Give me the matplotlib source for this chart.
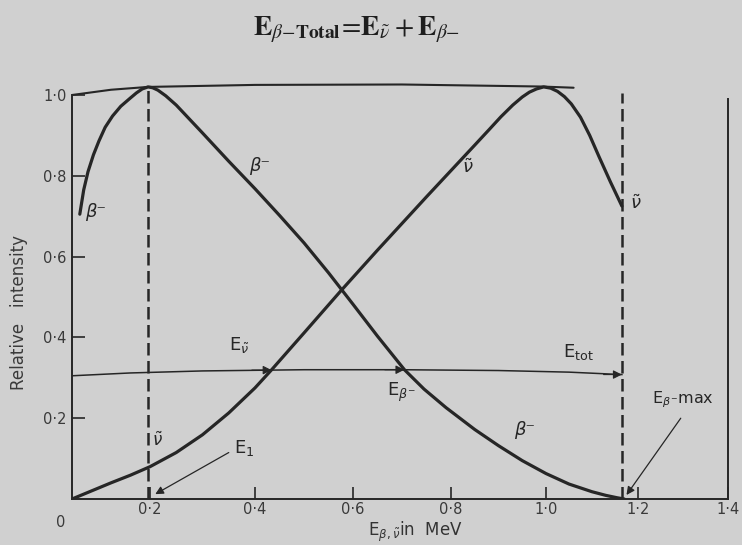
import numpy as np
import matplotlib.pyplot as plt

# energy axis of the original drawing is not evenly spaced
tick_mev = [0, 0.2, 0.4, 0.6, 0.8, 1.0, 1.2, 1.4]
tick_pos = [0, 78, 183, 281, 379, 474, 566, 656]
xtick_labels = ['0·2', '0·4', '0·6', '0·8', '1·0', '1·2', '1·4']
ytick_vals = [0.2, 0.4, 0.6, 0.8, 1.0]
ytick_labels = ['0·2', '0·4', '0·6', '0·8', '1·0']

# beta spectrum
beta_x = [0.02, 0.03, 0.041, 0.055, 0.069, 0.085, 0.104, 0.125, 0.149, 0.165, 0.18,
          0.195, 0.205, 0.215, 0.23, 0.25, 0.3, 0.35, 0.4, 0.45, 0.5, 0.55, 0.575,
          0.6, 0.65, 0.705, 0.745, 0.79, 0.85, 0.9, 0.95, 1.0, 1.05, 1.1, 1.13,
          1.155, 1.17]
beta_y = [0.705, 0.765, 0.81, 0.852, 0.886, 0.92, 0.948, 0.972, 0.992, 1.005, 1.015,
          1.02, 1.018, 1.012, 0.998, 0.975, 0.906, 0.836, 0.768, 0.702, 0.634, 0.56,
          0.521, 0.482, 0.403, 0.32, 0.272, 0.226, 0.172, 0.132, 0.095, 0.063, 0.037,
          0.018, 0.009, 0.003, 0.0]

# antineutrino spectrum
nu_x = [0, 0.05, 0.1, 0.15, 0.2, 0.25, 0.3, 0.35, 0.4, 0.434, 0.5, 0.575, 0.65,
        0.75, 0.85, 0.88, 0.905, 0.93, 0.95, 0.965, 0.98, 0.995, 1.01, 1.025, 1.04,
        1.055, 1.075, 1.095, 1.115, 1.14, 1.165]
nu_y = [0, 0.02, 0.04, 0.059, 0.08, 0.115, 0.159, 0.213, 0.275, 0.32, 0.411, 0.515,
        0.616, 0.748, 0.876, 0.914, 0.946, 0.975, 0.995, 1.007, 1.015, 1.02, 1.017,
        1.009, 0.996, 0.978, 0.945, 0.9, 0.848, 0.785, 0.725]

# energy sharing line and upper envelope
e_x = [0, 0.15, 0.3, 0.5, 0.7, 0.9, 1.05, 1.165]
e_y = [0.305, 0.312, 0.317, 0.32, 0.32, 0.318, 0.314, 0.308]
top_x = [0, 0.1, 0.195, 0.4, 0.7, 0.99, 1.06]
top_y = [1.0, 1.013, 1.02, 1.025, 1.026, 1.021, 1.018]

e1_x = 0.195        # dashed line at the first maximum
etot_x = 1.165      # dashed line at the end point
e1_top, etot_top = 1.02, 1.005
arrow_heads = [0.434, 0.705, 1.165]


def fwd(x):
    return np.interp(x, tick_mev, tick_pos)


def inv(u):
    return np.interp(u, tick_pos, tick_mev)


ink = '#262626'
bg = '#d0d0d0'

plt.rcParams['mathtext.fontset'] = 'dejavusans'

fig = plt.figure(figsize=(7.42, 5.45), dpi=100)
fig.patch.set_facecolor(bg)
ax = fig.add_axes([72 / 742, 46 / 545, 656 / 742, 1.06 * 404 / 545])
ax.set_facecolor(bg)
ax.set_xscale('function', functions=(fwd, inv))
ax.set_xlim(0, 1.4)
ax.set_ylim(0, 1.06)

ax.spines['top'].set_visible(False)
for s in ['left', 'bottom', 'right']:
    ax.spines[s].set_color(ink)
    ax.spines[s].set_linewidth(1.4)
ax.spines['left'].set_bounds(0, 1.0)
ax.spines['right'].set_bounds(0, 0.99)

ax.set_xticks(tick_mev[1:])
ax.set_xticklabels(xtick_labels)
ax.set_yticks(ytick_vals)
ax.set_yticklabels(ytick_labels)
ax.tick_params(direction='in', length=9, width=1.2, color=ink,
               labelcolor='#3a3a3a', labelsize=10.5)
ax.tick_params(axis='x', pad=2)
ax.tick_params(axis='y', pad=4)
ax.minorticks_off()

# curves
ax.plot(top_x, top_y, color=ink, lw=1.5, solid_capstyle='round')
ax.plot(beta_x, beta_y, color=ink, lw=2.3, solid_capstyle='round')
ax.plot(nu_x, nu_y, color=ink, lw=2.3, solid_capstyle='round')
ax.plot(e_x, e_y, color=ink, lw=1.1)
ax.plot([e1_x, e1_x], [0, e1_top], color=ink, lw=1.8, ls=(0, (5, 2.2)))
ax.plot([etot_x, etot_x], [0, etot_top], color=ink, lw=1.8, ls=(0, (5, 2.2)))

for xh in arrow_heads:
    yh = np.interp(xh, e_x, e_y)
    ax.annotate('', xy=(xh, yh), xytext=(xh - 0.04, yh),
                arrowprops=dict(arrowstyle='-|>', color=ink, lw=0.8,
                                mutation_scale=13, shrinkA=0, shrinkB=0))

# labels inside the plot
lab = dict(color=ink, ha='center', va='center')
ax.text(0.06, 0.71, 'β⁻', fontsize=13, style='italic', **lab)
ax.text(0.41, 0.825, 'β⁻', fontsize=13, style='italic', **lab)
ax.text(0.955, 0.17, 'β⁻', fontsize=13, style='italic', **lab)
ax.text(0.835, 0.82, r'$\tilde{\nu}$', fontsize=13, **lab)
ax.text(1.195, 0.73, r'$\tilde{\nu}$', fontsize=13, **lab)
ax.text(0.215, 0.145, r'$\tilde{\nu}$', fontsize=12, **lab)
ax.text(0.37, 0.38, r'E$_{\tilde{\nu}}$', fontsize=13, **lab)
ax.text(0.7, 0.265, r'E$_{\beta^{-}}$', fontsize=13, **lab)
ax.text(1.07, 0.365, r'E$_{\rm tot}$', fontsize=13, **lab)
ax.text(0.38, 0.125, r'E$_{\rm 1}$', fontsize=13, **lab)
ax.text(1.30, 0.245, r'E$_{\beta^{-}}$max', fontsize=11.5, **lab)

ax.annotate('', xy=(0.21, 0.012), xytext=(0.35, 0.115),
            arrowprops=dict(arrowstyle='-|>', color=ink, lw=0.9,
                            mutation_scale=12, shrinkA=0, shrinkB=0))
ax.annotate('', xy=(1.175, 0.01), xytext=(1.295, 0.2),
            arrowprops=dict(arrowstyle='-|>', color=ink, lw=0.9,
                            mutation_scale=12, shrinkA=0, shrinkB=0))
ax.annotate('0', xy=(0, 0), xytext=(-8, -17), textcoords='offset points',
            ha='center', va='center', fontsize=10.5, color='#3a3a3a')

# axis titles and heading
fig.text(415 / 742, 1 - 532 / 545, r'E$_{\beta,\tilde{\nu}}$in  MeV',
         ha='center', va='center', fontsize=12, color='#333333')
fig.text(19 / 742, 1 - 313 / 545, 'Relative   intensity', rotation=90,
         ha='center', va='center', fontsize=12, color='#3a3a3a')
fig.text(357 / 742, 1 - 30 / 545,
         r'$\mathbf{E}_{\beta{-}\mathbf{Total}}\!=\!\mathbf{E}_{\tilde{\nu}}+\mathbf{E}_{\beta{-}}$',
         ha='center', va='center', fontsize=20, color='#1e1e1e',
         math_fontfamily='stix')

fig.savefig('out.png', dpi=100, facecolor=bg)
